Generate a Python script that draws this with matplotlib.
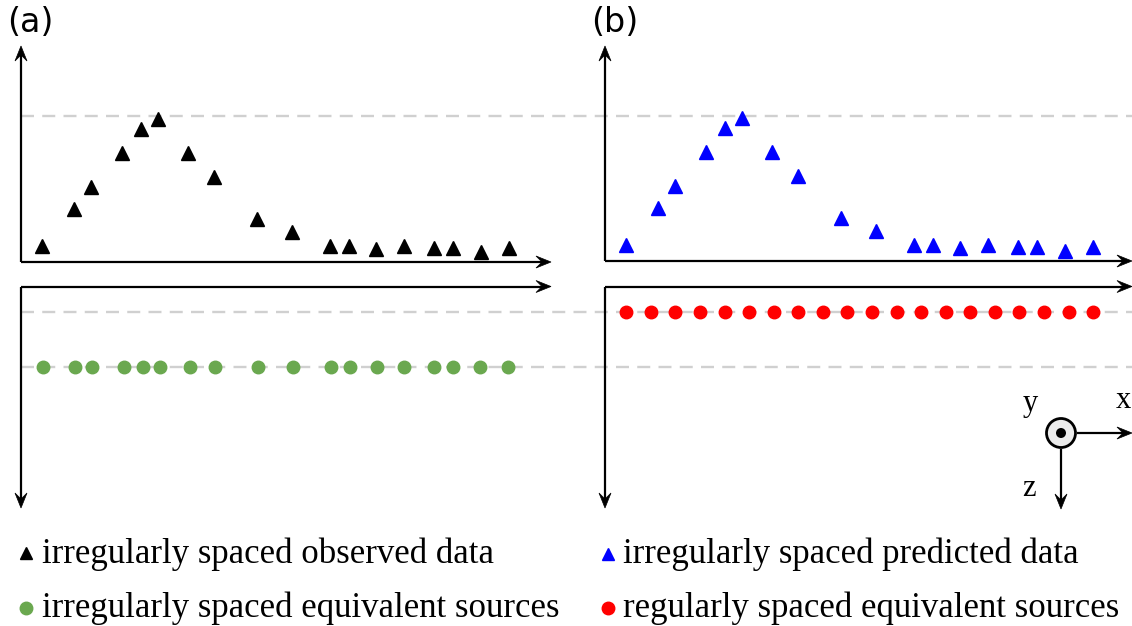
import numpy as np
import matplotlib.pyplot as plt
from matplotlib.patches import Polygon, Circle

# station positions along the profile (px from the origin) and anomaly amplitude (px above the axis)
obs_x = [21, 53, 70, 101, 120, 137, 167, 193, 236, 271, 309, 328, 355, 383, 413, 432, 460, 488]
obs_amp = [16, 53, 75, 109, 133, 143, 109, 85, 43, 30, 16, 16, 13, 16, 14, 14, 10, 14]
pred_amp = [16, 53, 75, 109, 133, 143, 109, 85, 43, 30, 16, 16, 13, 16, 14, 14, 10, 14]

# equivalent source positions (px from the origin)
eq_irr_x = [22, 54, 71, 103, 122, 139, 169, 194, 237, 272, 310, 329, 356, 383, 413, 432, 459, 487]
eq_reg_x = [21, 46, 70, 95, 120, 144, 169, 193, 218, 242, 267, 292, 316, 341, 365, 390, 414, 439, 464, 488]
depth_shallow = 25.5   # regular sources
depth_deep = 80.5      # irregular sources
level_top = 146.5      # dashed reference above the data axis

labels = ["(a)", "(b)"]
legend_a = ["irregularly spaced observed data", "irregularly spaced equivalent sources"]
legend_b = ["irregularly spaced predicted data", "regularly spaced equivalent sources"]

W, H = 1132, 626
fig = plt.figure(figsize=(W / 100, H / 100), dpi=100)
ax = fig.add_axes([0, 0, 1, 1])
ax.set_xlim(0, W)
ax.set_ylim(H, 0)
ax.axis('off')

serif = ['Liberation Serif', 'DejaVu Serif']
lw_ax = 1.6


def arrow(x0, y0, x1, y1, L=15, w=12):
    # shaft plus a notched (stealth) head
    d = np.array([x1 - x0, y1 - y0], float)
    d /= np.hypot(*d)
    n = np.array([-d[1], d[0]])
    tip = np.array([x1, y1], float)
    back = tip - L * d
    ax.plot([x0, back[0] + 0.4 * L * d[0]], [y0, back[1] + 0.4 * L * d[1]],
            color='k', lw=lw_ax, solid_capstyle='butt', zorder=3)
    head = [tip, back + w / 2 * n, tip - 0.6 * L * d, back - w / 2 * n]
    ax.add_patch(Polygon(head, closed=True, fc='k', ec='k', lw=0.5, zorder=3))


def dashed(y):
    ax.plot([21, W], [y, y], color='#d0d0d0', lw=1.7, dashes=(5.5, 3.5), zorder=1)


# panel origins: (x, y of data axis, y of source axis)
orig_a = (21, 262, 286.5)
orig_b = (605, 261, 286.5)

dashed(orig_a[1] - level_top)
dashed(orig_a[2] + depth_shallow)
dashed(orig_a[2] + depth_deep)

for (ox, oy, sy), lab in zip([orig_a, orig_b], labels):
    right = 551 if ox < 300 else 1132
    arrow(ox, oy, ox, 46)
    arrow(ox, oy, right, oy)
    arrow(ox, sy, right, sy)
    arrow(ox, sy, ox, 508)
    ax.text(ox - 14, 23, lab, fontsize=24, family='DejaVu Sans', ha='left', va='center')

# (a) observed data and irregular sources
ax.plot(orig_a[0] + np.array(obs_x), orig_a[1] - np.array(obs_amp), '^', color='k', ms=9.5, zorder=4)
ax.plot(orig_a[0] + np.array(eq_irr_x), np.full(len(eq_irr_x), orig_a[2] + depth_deep), 'o',
        color='#6aa84f', ms=9, zorder=4)

# (b) predicted data and regular sources
ax.plot(orig_b[0] + np.array(obs_x), orig_b[1] - np.array(pred_amp), '^', color='#0000ff', ms=9.5, zorder=4)
ax.plot(orig_b[0] + np.array(eq_reg_x), np.full(len(eq_reg_x), orig_b[2] + depth_shallow), 'o',
        color='#ff0000', ms=9, zorder=4)

# coordinate system symbol
cx, cy = 1061, 433
ax.add_patch(Circle((cx, cy), 14.5, fc='#ececec', ec='k', lw=2, zorder=4))
ax.add_patch(Circle((cx, cy), 5, fc='k', ec='none', zorder=5))
arrow(cx + 16, cy, 1132, cy)
arrow(cx, cy + 16, cx, 509)
ax.text(1030, 403, 'y', fontsize=22, family=serif, ha='center', va='center')
ax.text(1123, 401, 'x', fontsize=22, family=serif, ha='center', va='center')
ax.text(1029, 488, 'z', fontsize=22, family=serif, ha='center', va='center')

# legend
ax.plot([26], [553], '^', color='k', ms=8.5)
ax.plot([26], [608], 'o', color='#6aa84f', ms=9)
ax.plot([608], [554], '^', color='#0000ff', ms=8.5)
ax.plot([608], [608], 'o', color='#ff0000', ms=9)
for x, txts in [(42, legend_a), (623, legend_b)]:
    ax.text(x, 563, txts[0], fontsize=25, family=serif, ha='left', va='baseline')
    ax.text(x, 617, txts[1], fontsize=25, family=serif, ha='left', va='baseline')

fig.savefig('out.png', dpi=100)
